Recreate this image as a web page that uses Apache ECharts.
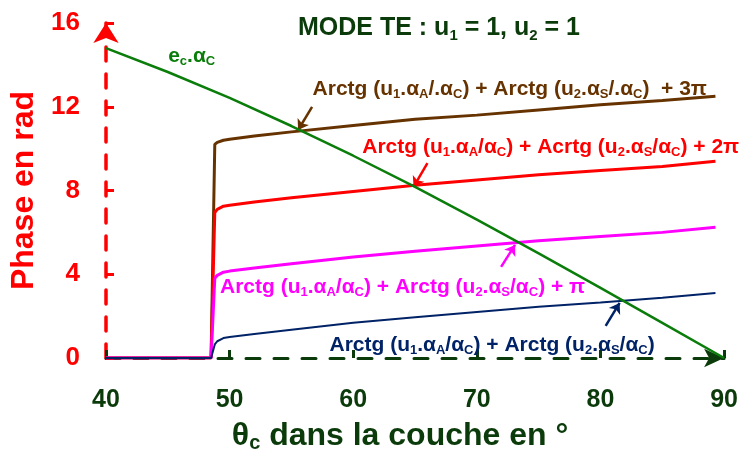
<!DOCTYPE html>
<html><head><meta charset="utf-8">
<script src="https://cdn.jsdelivr.net/npm/echarts@6/dist/echarts.min.js"></script>
<style>html,body{margin:0;padding:0;background:#fff}#c{width:741px;height:460px}</style>
</head><body><div id="c"></div>
<script>
// ---- data ----
const thetaPhase = [40, 48.5, 48.8, 49, 49.5, 50, 52, 55, 60, 65, 70, 75, 80, 85, 89.3];
const phase0   = [0, 0, 0.65, 0.8, 0.95, 1.0, 1.15, 1.35, 1.68, 1.95, 2.2, 2.45, 2.65, 2.88, 3.1];
const phasePi  = [0, 0, 3.8, 3.95, 4.1, 4.15, 4.3, 4.5, 4.82, 5.1, 5.35, 5.6, 5.8, 6.0, 6.25];
const phase2Pi = [0, 0, 6.95, 7.1, 7.25, 7.3, 7.45, 7.65, 7.95, 8.25, 8.5, 8.75, 8.95, 9.15, 9.4];
const phase3Pi = [0, 0, 10.2, 10.3, 10.4, 10.45, 10.6, 10.8, 11.1, 11.4, 11.6, 11.85, 12.1, 12.3, 12.5];
const thetaEc  = [40, 45, 50, 55, 60, 65, 70, 75, 80, 85, 90];
const ecAlphaC = [14.8, 13.66, 12.42, 11.08, 9.66, 8.17, 6.61, 5.0, 3.35, 1.68, 0];
const xTicks = [40, 50, 60, 70, 80, 90];
const yTicks = [0, 4, 8, 12, 16];

const pairs = (xs, ys) => xs.map((x, i) => [x, ys[i]]);

const FONT = 'Liberation Sans, Arial, sans-serif';
const DG = '#0b3a0b';
const C = {brown:'#663300', red:'#ff0000', mag:'#ff00ff', navy:'#002266', green:'#0a7d0a'};

function rich(color, subSize) {
  return {
    s: {fontSize: subSize, fontWeight: 'bold', fontFamily: FONT, color: color,
        verticalAlign: 'bottom', lineHeight: subSize + 1}
  };
}
function note(coord, text, color) {
  return {
    symbol: 'circle', symbolSize: 1, silent: true,
    itemStyle: {color: 'rgba(0,0,0,0)'},
    label: {show: true, position: 'right', distance: 0, formatter: text,
      color: color, fontSize: 21, fontWeight: 'bold', fontFamily: FONT, lineHeight: 24,
      rich: rich(color, 13)},
    data: [{coord: coord}]
  };
}
function arrow(from, to, color) {
  return {
    silent: true, symbol: ['none', 'arrow'], symbolSize: 10,
    lineStyle: {color: color, width: 2.5, type: 'solid'},
    label: {show: false},
    data: [[{coord: from}, {coord: to}]]
  };
}

const chart = echarts.init(document.getElementById('c'), null, {renderer: 'canvas'});
chart.setOption({
  animation: false,
  backgroundColor: '#fff',
  title: {
    text: 'MODE TE : u{s|1} = 1, u{s|2} = 1',
    left: 293, top: 8,
    textStyle: {color: DG, fontSize: 25, fontWeight: 'bold', fontFamily: FONT, lineHeight: 30,
      rich: rich(DG, 15)}
  },
  grid: {left: 106, right: 14, top: 23, bottom: 102, containLabel: false},
  xAxis: {
    type: 'value', min: 40, max: 90, interval: 10,
    name: '{t|θ}{s|c} dans la couche en °',
    nameLocation: 'middle', nameGap: 58,
    nameTextStyle: {color: DG, fontSize: 32, fontWeight: 'bold', fontFamily: FONT,
      padding: [0, 30, 0, 0], lineHeight: 36,
      rich: {t: {fontSize: 32, fontFamily: FONT, color: DG, lineHeight: 36},
             s: {fontSize: 20, fontWeight: 'bold', fontFamily: FONT, color: DG, verticalAlign: 'bottom', lineHeight: 14}}},
    axisLine: {show: true, onZero: false, symbol: ['none', 'arrow'], symbolSize: [14, 20],
      lineStyle: {color: DG, width: 3, type: [14, 14]}},
    axisTick: {show: true, inside: true, length: 8, lineStyle: {color: DG, width: 3}},
    axisLabel: {color: DG, fontSize: 25, fontWeight: 'bold', fontFamily: FONT, margin: 30,
      formatter: v => xTicks.includes(v) ? String(v) : ''},
    splitLine: {show: false}
  },
  yAxis: {
    type: 'value', min: 0, max: 16, interval: 4,
    name: 'Phase en rad', nameLocation: 'middle', nameGap: 66, nameRotate: 90,
    nameTextStyle: {color: '#ff0000', fontSize: 32, fontWeight: 'bold', fontFamily: FONT},
    axisLine: {show: true, onZero: false, symbol: ['none', 'arrow'], symbolSize: [19, 20],
      lineStyle: {color: '#ff0000', width: 3.5, type: [14, 13]}},
    axisTick: {show: true, inside: true, length: 8, lineStyle: {color: '#ff0000', width: 3}},
    axisLabel: {color: '#ff0000', fontSize: 26, fontWeight: 'bold', fontFamily: FONT, margin: 26,
      formatter: v => yTicks.includes(v) ? String(v) : ''},
    splitLine: {show: false}
  },
  series: [
    {type: 'line', name: '3pi', data: pairs(thetaPhase, phase3Pi), symbol: 'none',
      lineStyle: {color: C.brown, width: 3}, z: 2,
      markPoint: note([56.67, 12.85], 'Arctg (u{s|1}.α{s|A}/.α{s|C}) + Arctg (u{s|2}.α{s|S}/.α{s|C})  + 3π', C.brown),
      markLine: arrow([56.67, 11.99], [55.54, 10.89], C.brown)},
    {type: 'line', name: '2pi', data: pairs(thetaPhase, phase2Pi), symbol: 'none',
      lineStyle: {color: C.red, width: 3}, z: 3,
      markPoint: note([60.69, 10.08], 'Arctg (u{s|1}.α{s|A}/α{s|C}) + Acrtg (u{s|2}.α{s|S}/α{s|C}) + 2π', C.red),
      markLine: arrow([66.0, 9.31], [64.88, 8.17], C.red)},
    {type: 'line', name: 'pi', data: pairs(thetaPhase, phasePi), symbol: 'none',
      lineStyle: {color: C.mag, width: 3}, z: 4,
      markPoint: note([49.18, 3.39], 'Arctg (u{s|1}.α{s|A}/α{s|C}) + Arctg (u{s|2}.α{s|S}/α{s|C}) + π', C.mag),
      markLine: arrow([71.96, 4.35], [73.09, 5.40], C.mag)},
    {type: 'line', name: '0', data: pairs(thetaPhase, phase0), symbol: 'none',
      lineStyle: {color: C.navy, width: 2}, z: 5,
      markPoint: note([58.04, 0.62], 'Arctg (u{s|1}.α{s|A}/α{s|C}) + Arctg (u{s|2}.α{s|S}/α{s|C})', C.navy),
      markLine: arrow([80.42, 1.53], [81.55, 2.63], C.navy)},
    {type: 'line', name: 'ec', data: pairs(thetaEc, ecAlphaC), symbol: 'none',
      lineStyle: {color: C.green, width: 2.5}, z: 6,
      markPoint: note([44.99, 14.42], 'e{s|c}.α{s|C}', C.green)}
  ]
});
</script></body></html>
